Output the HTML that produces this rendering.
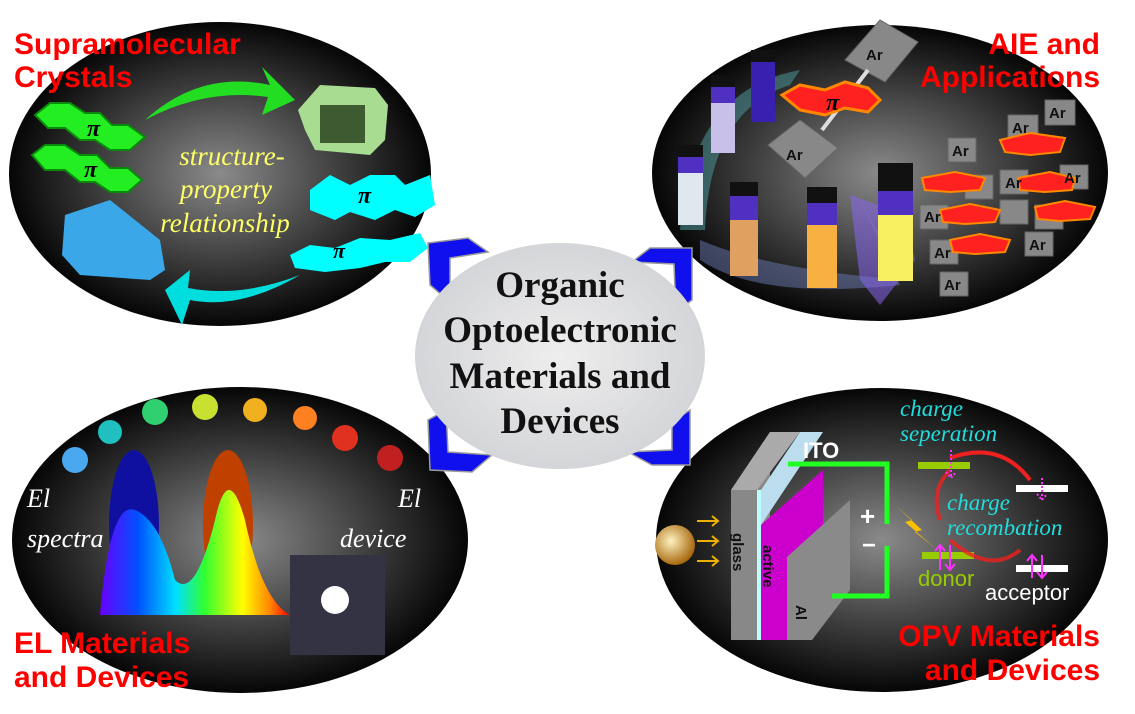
<!DOCTYPE html>
<html><head><meta charset="utf-8"><style>
body{margin:0;background:#fff;width:1135px;height:714px;overflow:hidden}
svg{display:block}
.t{font-family:"Liberation Sans",sans-serif;font-weight:bold;fill:#f00;font-size:30px}
.s{font-family:"Liberation Serif",serif;font-style:italic}
.c{font-family:"Liberation Serif",serif;font-weight:bold;font-size:37px;fill:#111;text-anchor:middle}
.ar{font-family:"Liberation Sans",sans-serif;font-weight:bold;font-size:15px;fill:#111}
</style></head><body>
<svg width="1135" height="714" viewBox="0 0 1135 714">
<defs>
<radialGradient id="g" cx="50%" cy="50%" r="50%"><stop offset="0" stop-color="#8a8a8a"/><stop offset="0.6" stop-color="#3a3a3a"/><stop offset="1" stop-color="#060606"/></radialGradient>
<radialGradient id="gc" cx="50%" cy="50%" r="50%"><stop offset="0" stop-color="#eeeeee"/><stop offset="1" stop-color="#d4d5d8"/></radialGradient>
<radialGradient id="ball" cx="40%" cy="40%" r="60%"><stop offset="0" stop-color="#fff2c0"/><stop offset="1" stop-color="#a86a10"/></radialGradient>
<linearGradient id="rb" x1="0" x2="1"><stop offset="0" stop-color="#6a00ff"/><stop offset=".2" stop-color="#0050ff"/><stop offset=".4" stop-color="#00e0ff"/><stop offset=".55" stop-color="#30ff30"/><stop offset=".75" stop-color="#ffff00"/><stop offset=".9" stop-color="#ff8000"/><stop offset="1" stop-color="#ff0000"/></linearGradient>
<linearGradient id="vial" x1="0" y1="0" x2="0" y2="1"><stop offset="0" stop-color="#5030c0"/><stop offset=".35" stop-color="#5030c0"/><stop offset=".36" stop-color="#fff" stop-opacity="0"/></linearGradient>
</defs>
<ellipse cx="220" cy="174" rx="211" ry="152" fill="url(#g)"/>
<ellipse cx="880" cy="173" rx="228" ry="148" fill="url(#g)"/>
<ellipse cx="240" cy="540" rx="228" ry="153" fill="url(#g)"/>
<ellipse cx="882" cy="540" rx="226" ry="152" fill="url(#g)"/>

<!-- TL -->
<path d="M145 120 Q200 70 270 85 L262 67 L295 100 L262 115 L268 97 Q205 88 145 120Z" fill="#22dd22"/>
<g fill="#22ee22" stroke="#0a8a0a" stroke-width="2">
<path d="M35 115 L50 103 L70 103 L85 113 L100 113 L112 125 L128 125 L145 137 L130 150 L110 150 L95 140 L80 140 L65 128 L48 128Z"/>
<path d="M32 155 L45 145 L65 145 L80 155 L97 155 L110 168 L128 168 L142 180 L128 192 L110 192 L95 182 L80 182 L65 170 L45 170Z"/>
</g>
<text x="87" y="136" class="s" font-size="24" font-weight="bold" fill="#000">π</text>
<text x="84" y="177" class="s" font-size="24" font-weight="bold" fill="#000">π</text>
<path d="M298 110 L320 85 L375 88 L388 105 L385 140 L370 155 L315 150 L305 130Z" fill="#a8dc90"/>
<rect x="320" y="105" width="45" height="38" fill="#3e5a30"/>
<path d="M65 215 L110 200 L160 240 L165 270 L150 280 L80 275 L62 255Z" fill="#3aa8e8"/>
<path d="M310 190 L330 175 L350 185 L370 175 L395 175 L405 185 L430 175 L435 205 L415 217 L395 210 L375 220 L350 212 L335 220 L310 210Z" fill="#00ffff"/>
<path d="M290 255 L310 245 L335 248 L360 238 L390 240 L420 233 L428 248 L410 262 L385 262 L360 268 L325 272 L295 268Z" fill="#00ffff"/>
<text x="358" y="203" class="s" font-size="24" font-weight="bold" fill="#000">π</text>
<text x="333" y="258" class="s" font-size="22" font-weight="bold" fill="#000">π</text>
<path d="M300 275 Q240 310 190 300 L182 325 L165 290 L190 270 L188 288 Q240 298 300 275Z" fill="#00dddd"/>
<g class="s" font-size="27" fill="#ffff66" text-anchor="middle"><text x="232" y="165">structure-</text><text x="226" y="198">property</text><text x="225" y="232">relationship</text></g>
<text x="14" y="54" class="t">Supramolecular</text>
<text x="14" y="87" class="t">Crystals</text>

<!-- TR -->
<path d="M680 230 Q690 90 800 70 L790 85 Q710 110 705 230Z" fill="#4a8a90" opacity=".6"/>
<path d="M700 260 Q760 300 900 285 L860 200 L905 280 Q770 270 700 240Z" fill="#6a7ab0" opacity=".5"/>
<path d="M850 195 L905 215 L915 260 L880 305 L860 280Z" fill="#8866ee" opacity=".55"/>
<g>
<rect x="711" y="75" width="24" height="78" fill="#c8c0e8"/><rect x="711" y="75" width="24" height="28" fill="#5030c0"/><rect x="711" y="75" width="24" height="12" fill="#111"/>
<rect x="751" y="50" width="24" height="72" fill="#3a20b0"/><rect x="751" y="50" width="24" height="12" fill="#111"/>
<rect x="678" y="145" width="25" height="80" fill="#dfe8ef"/><rect x="678" y="145" width="25" height="28" fill="#5030c0"/><rect x="678" y="145" width="25" height="12" fill="#111"/>
<rect x="730" y="182" width="28" height="94" fill="#e0a060"/><rect x="730" y="182" width="28" height="38" fill="#5030c0"/><rect x="730" y="182" width="28" height="14" fill="#111"/>
<rect x="807" y="187" width="30" height="101" fill="#f8b040"/><rect x="807" y="187" width="30" height="38" fill="#5030c0"/><rect x="807" y="187" width="30" height="16" fill="#111"/>
<rect x="878" y="163" width="35" height="118" fill="#f8f060"/><rect x="878" y="163" width="35" height="52" fill="#5030c0"/><rect x="878" y="163" width="35" height="28" fill="#111"/>
</g>
<g fill="#888" stroke="#666"><path d="M845 60 L880 20 L918 42 L885 82Z"/><path d="M768 145 L800 120 L838 148 L805 178Z"/></g>
<line x1="822" y1="130" x2="868" y2="70" stroke="#ddd" stroke-width="4"/>
<path d="M782 95 L800 85 L825 90 L845 82 L868 88 L880 100 L868 112 L845 108 L825 115 L800 110Z" fill="#ff2020" stroke="#ff8800" stroke-width="3"/>
<text x="826" y="110" class="s" font-size="24" font-weight="bold" fill="#000">π</text>
<text x="866" y="60" class="ar" font-size="20">Ar</text><text x="786" y="160" class="ar" font-size="20">Ar</text>
<g fill="#888" stroke="#666">
<rect x="1045" y="100" width="30" height="25"/><rect x="1008" y="115" width="30" height="25"/><rect x="948" y="138" width="28" height="24"/><rect x="1000" y="170" width="28" height="24"/><rect x="1060" y="165" width="28" height="24"/><rect x="965" y="175" width="28" height="24"/><rect x="920" y="205" width="28" height="24"/><rect x="1000" y="200" width="28" height="24"/><rect x="930" y="240" width="28" height="24"/><rect x="1025" y="232" width="28" height="24"/><rect x="940" y="272" width="28" height="24"/><rect x="1035" y="205" width="28" height="24"/></g>
<g fill="#ff2020" stroke="#ff8800" stroke-width="2">
<path d="M1000 140 L1030 133 L1065 138 L1060 152 L1030 155 L1005 152Z"/><path d="M922 178 L955 172 L985 178 L980 190 L950 192 L925 190Z"/><path d="M1018 178 L1050 172 L1075 178 L1072 190 L1045 192 L1020 190Z"/><path d="M940 210 L970 204 L1000 210 L995 222 L965 224 L943 222Z"/><path d="M1035 207 L1065 201 L1095 207 L1090 219 L1060 221 L1038 219Z"/><path d="M950 240 L980 234 L1010 240 L1005 252 L975 254 L953 252Z"/></g>
<g class="ar" font-size="13"><text x="1049" y="118">Ar</text><text x="1012" y="133">Ar</text><text x="952" y="156">Ar</text><text x="1005" y="188">Ar</text><text x="1064" y="183">Ar</text><text x="924" y="222">Ar</text><text x="934" y="258">Ar</text><text x="1029" y="250">Ar</text><text x="944" y="290">Ar</text></g>
<text x="1100" y="54" class="t" text-anchor="end">AIE and</text>
<text x="1100" y="87" class="t" text-anchor="end">Applications</text>

<!-- BL -->
<g><circle cx="75" cy="460" r="13" fill="#4aa8f0"/><circle cx="110" cy="432" r="12" fill="#20c0c0"/><circle cx="155" cy="412" r="13" fill="#30d070"/><circle cx="205" cy="407" r="13" fill="#c8e030"/><circle cx="255" cy="410" r="12" fill="#f0b020"/><circle cx="305" cy="418" r="12" fill="#ff8020"/><circle cx="345" cy="438" r="13" fill="#e03020"/><circle cx="390" cy="458" r="13" fill="#c02020"/></g>
<ellipse cx="134" cy="525" rx="25" ry="75" fill="#1010a0"/>
<ellipse cx="228" cy="525" rx="25" ry="75" fill="#c04000"/>
<path d="M100 615 Q110 500 135 510 Q160 520 175 580 Q195 600 215 520 Q228 460 245 520 Q262 600 290 615Z" fill="url(#rb)"/>
<rect x="290" y="555" width="95" height="100" fill="#334"/>
<circle cx="335" cy="600" r="14" fill="#fff"/>
<g class="s" font-size="26" fill="#fff"><text x="27" y="507">El</text><text x="27" y="547">spectra</text><text x="398" y="507">El</text><text x="340" y="547">device</text></g>
<text x="14" y="653" class="t">EL Materials</text>
<text x="14" y="687" class="t">and Devices</text>

<!-- BR -->
<circle cx="675" cy="545" r="20" fill="url(#ball)"/>
<g stroke="#f0b000" stroke-width="2" fill="none"><path d="M697 521 H718 M712 516 L718 521 L712 526"/><path d="M697 541 H718 M712 536 L718 541 L712 546"/><path d="M697 561 H718 M712 556 L718 561 L712 566"/></g>
<path d="M731 490 L770 432 L770 640 L731 640Z" fill="#888"/>
<path d="M731 490 L770 432 L800 432 L757 490Z" fill="#aaa"/>
<rect x="757" y="490" width="4" height="150" fill="#bff"/>
<path d="M761 490 L800 432 L823 432 L761 525Z" fill="#bde"/>
<path d="M761 525 L823 470 L823 560 L790 600 L790 640 L761 640Z" fill="#cc00cc"/>
<path d="M787 557 L850 500 L850 590 L812 640 L787 640Z" fill="#8a8a8a"/>
<text transform="translate(733,533) rotate(90)" class="ar" font-size="22">glass</text>
<text transform="translate(763,545) rotate(90)" class="ar" font-size="22">active</text>
<text transform="translate(796,605) rotate(90)" class="ar" font-size="22">Al</text>
<text x="803" y="458" font-family="Liberation Sans" font-weight="bold" font-size="22" fill="#fff">ITO</text>
<g stroke="#22ff22" stroke-width="5" fill="none"><path d="M788 464 H887 V524"/><path d="M887 546 V596 H832"/></g>
<text x="860" y="525" font-family="Liberation Sans" font-weight="bold" font-size="26" fill="#fff">+</text>
<text x="862" y="553" font-family="Liberation Sans" font-weight="bold" font-size="24" fill="#fff">−</text>
<path d="M895 505 L912 520 L905 522 L935 548 L915 532 L922 530Z" fill="#f8c000"/>
<rect x="918" y="462" width="52" height="7" fill="#99cc00"/><rect x="922" y="552" width="52" height="7" fill="#99cc00"/>
<rect x="1016" y="485" width="52" height="7" fill="#fff"/><rect x="1016" y="565" width="52" height="7" fill="#fff"/>
<path d="M950 458 Q1000 440 1030 480" stroke="#ee2020" stroke-width="4" fill="none"/>
<path d="M1020 550 Q990 575 950 540 M940 520 Q930 490 950 470" stroke="#ee2020" stroke-width="4" fill="none" opacity=".8"/>
<g stroke="#ff33ff" stroke-width="2" fill="none"><path d="M951 450 V478 M946 472 L951 478 L956 472" stroke-dasharray="2 2"/><path d="M1042 478 V500 M1037 494 L1042 500 L1047 494" stroke-dasharray="2 2"/><path d="M940 570 V545 M935 551 L940 545 L945 551"/><path d="M950 545 V570 M945 564 L950 570 L955 564"/><path d="M1032 578 V555 M1027 561 L1032 555 L1037 561"/><path d="M1042 555 V578 M1037 572 L1042 578 L1047 572"/></g>
<g class="s" font-size="23" fill="#22dddd"><text x="900" y="416">charge</text><text x="900" y="441">seperation</text><text x="947" y="510">charge</text><text x="947" y="535">recombation</text></g>
<text x="918" y="586" font-family="Liberation Sans" font-size="22" fill="#99cc00">donor</text>
<text x="985" y="600" font-family="Liberation Sans" font-size="22" fill="#fff">acceptor</text>
<text x="1100" y="646" class="t" text-anchor="end">OPV Materials</text>
<text x="1100" y="680" class="t" text-anchor="end">and Devices</text>

<!-- chevrons -->
<g fill="#1010ee" stroke="#999" stroke-width="1.5">
<path d="M428 243 L468 238 L488 252 L450 258 L450 302 L430 285Z"/>
<path d="M632 262 L650 248 L692 248 L692 300 L676 312 L674 264Z"/>
<path d="M428 420 L446 410 L448 452 L492 455 L472 472 L430 470Z"/>
<path d="M690 410 L690 465 L652 465 L628 452 L672 450 L672 422Z"/>
</g>
<ellipse cx="560" cy="356" rx="145" ry="113" fill="url(#gc)"/>
<g class="c"><text x="560" y="297">Organic</text><text x="560" y="342">Optoelectronic</text><text x="560" y="388">Materials and</text><text x="560" y="433">Devices</text></g>
</svg>
</body></html>
